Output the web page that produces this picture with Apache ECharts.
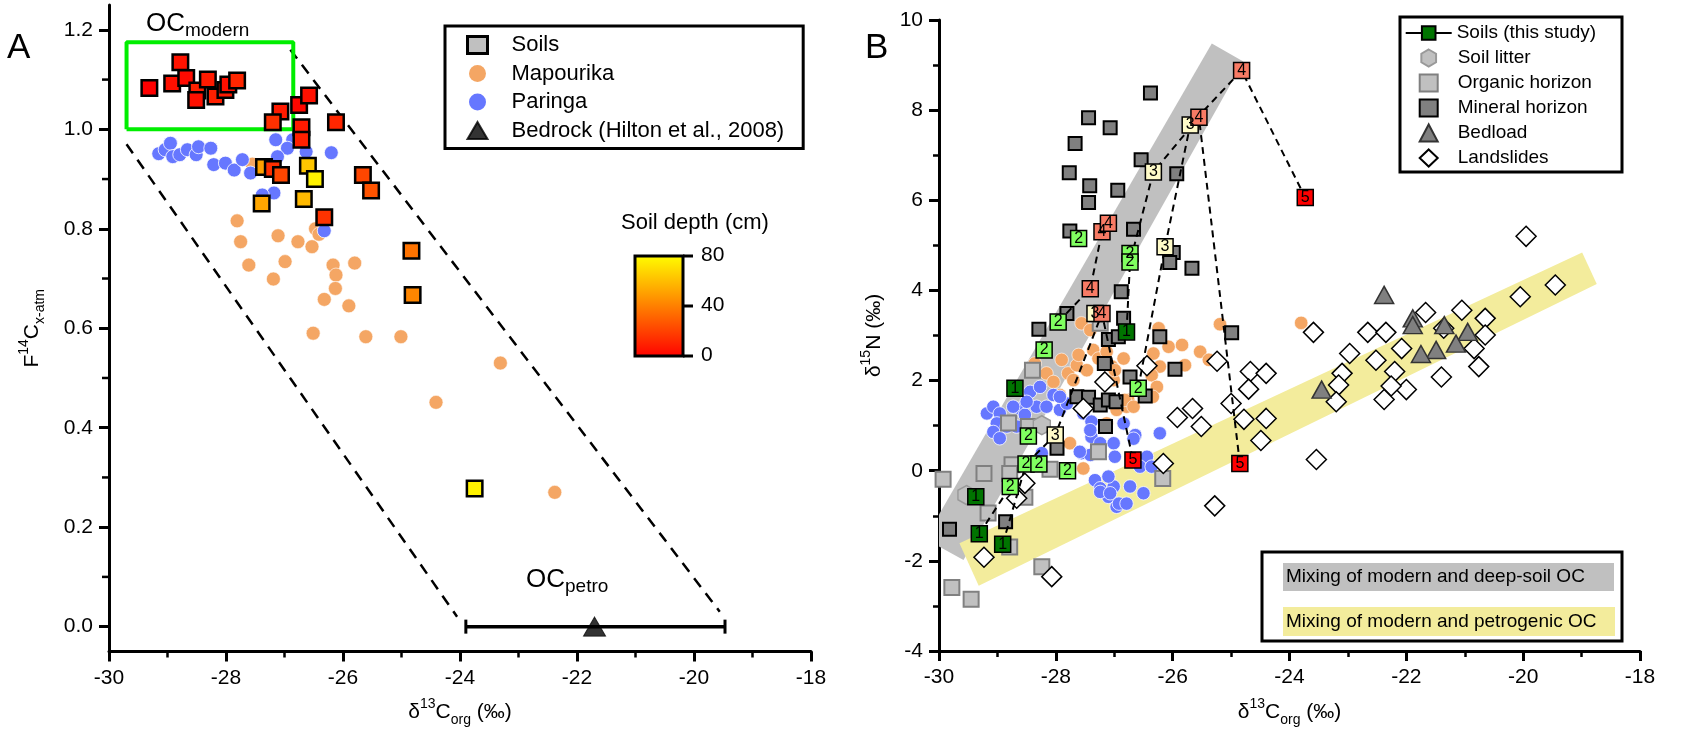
<!DOCTYPE html>
<html><head><meta charset="utf-8">
<script src="https://cdn.jsdelivr.net/npm/echarts@6/dist/echarts.min.js"></script>
<style>html,body{margin:0;padding:0;background:#fff;}#c{width:1690px;height:744px;}</style>
</head><body><div id="c"></div>
<script>
// ---------------- Panel A data ----------------
const xTicksA = [-30, -28, -26, -24, -22, -20, -18];
const yTicksA = [0.0, 0.2, 0.4, 0.6, 0.8, 1.0, 1.2];
const yMinorTicksA = [0.1, 0.3, 0.5, 0.7, 0.9, 1.1];
// [d13C, F14C, depth cm]
const soilsA = [
  [-29.31,1.083,0],[-28.92,1.092,5],[-28.78,1.135,6],[-28.68,1.103,3],[-28.49,1.078,10],[-28.51,1.059,5],
  [-28.31,1.100,8],[-28.18,1.066,10],[-28.01,1.079,8],[-27.96,1.090,5],[-27.81,1.098,12],
  [-27.07,1.036,8],[-27.20,1.014,15],[-26.75,1.049,2],[-26.58,1.068,5],[-26.71,1.004,8],[-26.71,0.979,10],[-26.12,1.014,12],
  [-27.35,0.924,50],[-27.20,0.920,15],[-27.06,0.908,22],[-26.60,0.927,62],[-26.48,0.900,76],[-25.66,0.908,22],[-25.52,0.877,26],
  [-27.39,0.851,52],[-26.67,0.860,58],[-26.32,0.823,16],[-24.83,0.756,36],[-24.81,0.667,42],[-23.75,0.278,76]
];
const mapourikaA = [
  [-27.55,0.930],[-26.47,0.800],
  [-27.81,0.816],[-27.75,0.774],[-27.11,0.786],[-26.77,0.774],[-26.53,0.764],[-26.41,0.789],
  [-27.61,0.727],[-26.99,0.734],[-27.19,0.699],[-26.17,0.727],[-26.12,0.707],[-25.80,0.731],
  [-26.13,0.680],[-26.32,0.658],[-25.90,0.645],[-26.51,0.590],[-25.61,0.583],[-25.01,0.583],
  [-23.31,0.530],[-24.41,0.451],[-22.38,0.270]
];
const paringaA = [
  [-29.15,0.951],[-29.04,0.959],[-28.95,0.972],[-28.91,0.945],[-28.79,0.949],[-28.66,0.959],[-28.51,0.949],
  [-28.47,0.965],[-28.26,0.962],[-28.21,0.929],[-28.01,0.932],[-27.86,0.918],[-27.72,0.939],[-27.58,0.912],
  [-27.15,0.979],[-26.86,0.979],[-26.95,0.962],[-27.12,0.945],[-26.63,0.955],[-26.20,0.953],
  [-27.18,0.872],[-27.38,0.868],[-26.32,0.796]
];
const bedrockA = [[-21.7, 0.0]];
const bedrockRangeA = [[-23.9, -19.47]];
const ocModernBox = [[-29.7, 1.0], [-26.85, 1.175]];
const mixLeftA = [[-29.7, 0.97], [-24.05, 0.02]];
const mixRightA = [[-26.9, 1.16], [-19.56, 0.03]];
const depthTicks = [0, 40, 80];

// ---------------- Panel B data ----------------
const xTicksB = [-30, -28, -26, -24, -22, -20, -18];
const yTicksB = [-4, -2, 0, 2, 4, 6, 8, 10];
// [d13C, d15N, depth level 1-5]
const soilsB = [
  [-29.31,-1.40,1],[-28.91,-1.63,1],[-29.37,-0.58,1],[-28.70,1.83,1],[-26.79,3.08,1],
  [-28.78,-0.35,2],[-28.51,0.15,2],[-28.29,0.15,2],[-27.80,0.00,2],[-28.47,0.77,2],[-28.20,2.68,2],
  [-27.96,3.30,2],[-27.61,5.15,2],[-26.73,4.82,2],[-26.73,4.63,2],[-26.59,1.83,2],
  [-28.01,0.79,3],[-27.33,3.49,3],[-26.13,4.97,3],[-26.33,6.63,3],[-25.70,7.67,3],
  [-27.41,4.04,4],[-27.21,3.49,4],[-27.21,5.30,4],[-27.10,5.49,4],[-25.55,7.84,4],[-24.82,8.88,4],
  [-26.68,0.24,5],[-24.85,0.16,5],[-23.73,6.06,5]
];
// soil profiles: indices into soilsB, joined by dashed lines
const profilesB = [[0,5],[1,6,16,22,27],[11,21,23],[4,14,19,25,28],[15,18,20,26,29]];
const mineralB = [
  [-26.38,8.38],[-27.44,7.83],[-27.07,7.61],[-27.67,7.26],[-26.54,6.90],[-27.77,6.61],[-25.93,6.59],
  [-27.42,6.32],[-26.94,6.22],[-27.44,5.95],[-27.76,5.32],[-26.67,5.36],[-25.99,4.84],[-26.05,4.62],
  [-25.67,4.49],[-26.88,3.97],[-27.81,3.49],[-28.29,3.14],[-27.10,2.91],[-26.93,2.97],[-27.17,2.38],
  [-27.64,1.64],[-27.44,1.63],[-27.24,1.46],[-27.10,1.57],[-26.97,1.53],[-27.15,0.98],[-27.98,0.50],
  [-29.82,-1.30],[-28.86,-1.13],[-26.84,3.38],[-26.22,2.97],[-26.73,2.08],[-26.47,1.66],[-24.99,3.06],[-25.96,2.25]
];
const organicB = [
  [-29.93,-0.19],[-29.23,-0.06],[-28.40,2.23],[-28.81,1.06],[-28.47,0.98],[-28.75,0.13],[-28.79,-0.06],
  [-28.10,0.03],[-28.53,-0.59],[-29.16,-0.94],[-28.79,-1.69],[-28.24,-2.13],[-27.27,0.42],[-27.24,3.27],
  [-26.17,-0.17],[-29.78,-2.59],[-29.45,-2.85]
];
const litterB = [[-29.53,-0.54],[-28.24,1.01]];
const bedloadB = [
  [-22.38,3.90],[-21.89,3.38],[-21.89,3.23],[-21.35,3.23],[-20.95,3.08],[-21.15,2.82],[-21.49,2.68],[-21.75,2.59],[-23.45,1.80]
];
const landslidesB = [
  [-23.59,3.07],[-25.24,2.43],[-26.44,2.33],[-27.16,1.97],[-27.53,1.38],[-24.67,2.20],[-24.40,2.16],
  [-24.70,1.81],[-25.00,1.49],[-25.66,1.38],[-25.92,1.18],[-25.51,0.98],[-24.78,1.14],[-24.40,1.16],
  [-24.49,0.67],[-23.54,0.25],[-26.16,0.16],[-22.97,2.60],[-23.10,2.16],[-23.16,1.90],[-23.20,1.53],
  [-22.66,3.07],[-22.35,3.07],[-22.08,2.71],[-22.52,2.45],[-22.20,2.20],[-22.00,1.80],[-22.26,1.88],
  [-22.38,1.58],[-21.67,3.51],[-21.40,2.08],[-21.05,3.56],[-20.84,2.71],[-20.76,2.31],[-20.65,3.38],
  [-20.65,3.01],[-20.05,3.86],[-25.28,-0.78],[-19.95,5.20],[-19.45,4.12],[-29.23,-1.92],[-28.07,-2.35],
  [-28.53,-0.28],[-28.67,-0.61],[-21.36,3.16]
];
const paringaB = [
  [-29.18,1.27],[-29.07,1.42],[-28.96,1.27],[-29.01,1.05],[-29.07,0.86],[-28.96,0.72],[-28.84,0.98],
  [-28.67,0.98],[-28.61,1.38],[-28.53,1.24],[-28.44,1.75],[-28.33,1.42],[-28.16,1.42],[-28.04,1.68],
  [-27.93,1.35],[-27.81,1.49],[-28.24,0.39],[-27.56,0.39],[-27.41,0.35],[-27.33,-0.21],[-27.24,-0.39],
  [-27.10,-0.58],[-27.01,-0.35],[-26.96,-0.80],[-28.04,0.83],[-28.73,1.42],[-28.50,1.53],[-28.27,1.86],
  [-27.93,1.64],[-27.53,1.27],[-27.39,1.09],[-27.39,0.75],[-27.59,0.42],[-27.24,0.61],[-27.01,0.61],
  [-26.84,1.05],[-26.64,0.79],[-26.99,0.31],[-27.10,-0.13],[-26.22,0.83],[-27.41,0.90],[-26.67,0.71],
  [-26.44,0.31],[-26.56,0.09],[-26.36,0.09],[-26.73,-0.35],[-26.50,-0.50],[-27.24,-0.47],[-27.07,-0.50],
  [-26.92,-0.73],[-26.79,-0.73]
];
const mapourikaB = [
  [-27.56,3.27],[-27.41,3.12],[-27.36,2.68],[-27.27,2.49],[-27.13,2.64],[-27.90,2.46],[-28.16,2.16],
  [-28.04,1.97],[-27.79,2.16],[-27.64,2.34],[-27.47,2.23],[-27.93,1.68],[-27.70,2.01],[-28.36,2.38],
  [-27.76,0.61],[-27.53,0.05],[-27.13,1.05],[-27.01,2.01],[-27.61,2.57],[-27.04,2.31],[-26.33,2.60],
  [-26.22,2.31],[-26.96,1.35],[-26.76,1.57],[-26.24,3.16],[-26.07,2.75],[-25.84,2.79],[-25.53,2.64],
  [-25.38,2.46],[-25.79,2.34],[-26.36,2.12],[-26.27,1.86],[-26.34,1.64],[-26.79,1.42],[-23.80,3.28],
  [-25.19,3.25],[-26.82,1.57],[-26.67,1.42],[-26.99,2.23],[-26.84,2.49]
];
// mixing bands (polygons in data space)
const deepSoilBand = [[-30,-0.97],[-25.33,9.48],[-24.79,9.08],[-29.58,-1.98],[-30,-1.68]];
const petroBand = [[-29.65,-1.61],[-18.99,4.84],[-18.74,4.14],[-29.32,-2.55]];

// ---------------- styles ----------------
const FONT = "'Liberation Sans', Arial, Helvetica, sans-serif";
const RICH = {
  n:{fontSize:21, fontFamily:FONT, color:'#000', lineHeight:30},
  sup:{fontSize:14, fontFamily:FONT, color:'#000', lineHeight:14, verticalAlign:'top'},
  sub:{fontSize:14, fontFamily:FONT, color:'#000', lineHeight:14, verticalAlign:'bottom'}
};
const OCRICH = {
  n:{fontSize:26, fontFamily:FONT, fill:'#000', lineHeight:32},
  s:{fontSize:19, fontFamily:FONT, fill:'#000', lineHeight:19, verticalAlign:'bottom'}
};
const depthColors = ['#007400','#80ff60','#fffbc8','#f87b65','#ff0000'];
const HEX = 'path://M0,-1L0.866,-0.5L0.866,0.5L0,1L-0.866,0.5L-0.866,-0.5Z';

const axLine = {show:true, onZero:false, lineStyle:{color:'#000', width:3}};
const axTick = {show:true, length:10, lineStyle:{color:'#000', width:3}};
const axMinor = {show:true, splitNumber:2, length:6, lineStyle:{color:'#000', width:2.5}};
const axLabel = {color:'#000', fontSize:21, fontFamily:FONT, margin:16};

const chart = echarts.init(document.getElementById('c'), null, {renderer:'canvas'});

const series = [];
function add(s){ series.push(s); return series.length-1; }

// Panel A
add({name:'Mapourika', type:'scatter', xAxisIndex:0, yAxisIndex:0, data:mapourikaA, symbolSize:14,
  itemStyle:{color:'#F4A664', borderColor:'#fff', borderWidth:0.6, opacity:1}, z:2});
add({name:'Paringa', type:'scatter', xAxisIndex:0, yAxisIndex:0, data:paringaA, symbolSize:14,
  itemStyle:{color:'#6677FF', borderColor:'#fff', borderWidth:0.8, opacity:1}, z:3});
add({name:'mixA1', type:'line', xAxisIndex:0, yAxisIndex:0, data:mixLeftA, symbol:'none',
  lineStyle:{color:'#000', width:2.5, type:[11,8]}, z:1, silent:true});
add({name:'mixA2', type:'line', xAxisIndex:0, yAxisIndex:0, data:mixRightA, symbol:'none',
  lineStyle:{color:'#000', width:2.5, type:[11,8]}, z:1, silent:true});
add({name:'ocModern', type:'line', xAxisIndex:0, yAxisIndex:0, symbol:'none',
  data:[[ocModernBox[0][0],ocModernBox[0][1]],[ocModernBox[1][0],ocModernBox[0][1]],[ocModernBox[1][0],ocModernBox[1][1]],[ocModernBox[0][0],ocModernBox[1][1]],[ocModernBox[0][0],ocModernBox[0][1]]],
  lineStyle:{color:'#00ee00', width:4}, z:2, silent:true});
const idxSoilsA = add({name:'Soils', type:'scatter', xAxisIndex:0, yAxisIndex:0, data:soilsA, symbol:'rect', symbolSize:15.5,
  itemStyle:{color:'#c0c0c0', borderColor:'#000', borderWidth:2.5, opacity:1}, z:6});
add({name:'bedrockErr', type:'custom', xAxisIndex:0, yAxisIndex:0,
  data: bedrockRangeA.map((r,i)=>[r[0], r[1], bedrockA[i][1]]),
  renderItem:(params, api)=>{
    const y = api.value(2);
    const p1 = api.coord([api.value(0), y]), p2 = api.coord([api.value(1), y]);
    const h = 7;
    return {type:'group', children:[
      {type:'line', shape:{x1:p1[0],y1:p1[1],x2:p2[0],y2:p2[1]}, style:{stroke:'#000', lineWidth:3.5}},
      {type:'line', shape:{x1:p1[0],y1:p1[1]-h,x2:p1[0],y2:p1[1]+h}, style:{stroke:'#000', lineWidth:3}},
      {type:'line', shape:{x1:p2[0],y1:p2[1]-h,x2:p2[0],y2:p2[1]+h}, style:{stroke:'#000', lineWidth:3}}
    ]};
  }, z:4, silent:true});
add({name:'Bedrock (Hilton et al., 2008)', type:'scatter', xAxisIndex:0, yAxisIndex:0, data:bedrockA,
  symbol:'triangle', symbolSize:[22,19], itemStyle:{color:'#000', borderColor:'#000', borderWidth:1}, z:5});

// Panel B
const bandSeries = (name, poly, color) => ({name, type:'custom', xAxisIndex:1, yAxisIndex:1, clip:true,
  data:[poly[0]], silent:true, z:1,
  renderItem:(params, api)=>({type:'polygon', shape:{points: poly.map(p=>api.coord(p))}, style:{fill:color}})});
add(bandSeries('bandDeep', deepSoilBand, '#c0c0c0'));
add(bandSeries('bandPetro', petroBand, '#f3ec9c'));
add({name:'Mapourika', type:'scatter', xAxisIndex:1, yAxisIndex:1, data:mapourikaB, symbolSize:13.5,
  itemStyle:{color:'#F4A664', borderColor:'#fff', borderWidth:0.6, opacity:1}, z:2});
add({name:'Paringa', type:'scatter', xAxisIndex:1, yAxisIndex:1, data:paringaB, symbolSize:13.5,
  itemStyle:{color:'#6677FF', borderColor:'#fff', borderWidth:0.8, opacity:1}, z:3});
add({name:'Organic horizon', type:'scatter', xAxisIndex:1, yAxisIndex:1, data:organicB, symbol:'rect', symbolSize:15,
  itemStyle:{color:'#c0c0c0', borderColor:'#808080', borderWidth:2, opacity:1}, z:4});
add({name:'Soil litter', type:'scatter', xAxisIndex:1, yAxisIndex:1, data:litterB, symbol:HEX, symbolSize:[17,19],
  itemStyle:{color:'#c0c0c0', borderColor:'#999', borderWidth:1.5, opacity:1}, z:4});
add({name:'Mineral horizon', type:'scatter', xAxisIndex:1, yAxisIndex:1, data:mineralB, symbol:'rect', symbolSize:13,
  itemStyle:{color:'#808080', borderColor:'#000', borderWidth:2, opacity:1}, z:5});
add({name:'Landslides', type:'scatter', xAxisIndex:1, yAxisIndex:1, data:landslidesB, symbol:'diamond', symbolSize:20,
  itemStyle:{color:'#fff', borderColor:'#000', borderWidth:1.5, opacity:1}, z:6});
add({name:'Bedload', type:'scatter', xAxisIndex:1, yAxisIndex:1, data:bedloadB, symbol:'triangle', symbolSize:[19,17],
  itemStyle:{color:'#808080', borderColor:'#333', borderWidth:1.5, opacity:1}, z:6});
profilesB.forEach((prof,i)=>{
  add({name:'profile'+i, type:'line', xAxisIndex:1, yAxisIndex:1, symbol:'none', silent:true,
    data: prof.map(k=>[soilsB[k][0], soilsB[k][1]]),
    lineStyle:{color:'#000', width:2, type:[7,5]}, z:7});
});
add({name:'Soils (this study)', type:'line', xAxisIndex:1, yAxisIndex:1, data:[], symbol:'rect', symbolSize:16,
  itemStyle:{color:'#007400', borderColor:'#000', borderWidth:1.5}, lineStyle:{color:'#000', width:2}});
const idxSoilsB = add({name:'soilsB', type:'scatter', xAxisIndex:1, yAxisIndex:1, data:soilsB, symbol:'rect', symbolSize:16,
  itemStyle:{color:'#007400', borderColor:'#000', borderWidth:1.5, opacity:1},
  label:{show:true, position:'inside', formatter:p=>String(p.value[2]), color:'#000', fontSize:16, fontFamily:FONT}, z:8});

const baseGraphic = [
  {type:'text', x:7, y:31, style:{text:'A', fontSize:35, fontFamily:FONT, fill:'#000'}},
  {type:'text', x:865, y:31, style:{text:'B', fontSize:35, fontFamily:FONT, fill:'#000'}},
  {type:'text', x:146, y:8, style:{text:'{n|OC}{s|modern}', rich:OCRICH}},
  {type:'text', x:526, y:564, style:{text:'{n|OC}{s|petro}', rich:OCRICH}},
  // colour bar
  {type:'text', x:621, y:212, style:{text:'Soil depth (cm)', fontSize:22, fontFamily:FONT, fill:'#000'}},
  {type:'rect', shape:{x:635, y:256, width:48, height:100}, style:{stroke:'#000', lineWidth:3,
    fill:{type:'linear', x:0, y:0, x2:0, y2:1, colorStops:[{offset:0,color:'#ffff00'},{offset:0.5,color:'#ff8000'},{offset:1,color:'#ff0000'}]}}},
  ...depthTicks.map(d=>{ const yy = 356 - d/80*100; return {type:'line', shape:{x1:683, y1:yy, x2:693, y2:yy}, style:{stroke:'#000', lineWidth:3}}; }),
  ...depthTicks.map(d=>{ const yy = 356 - d/80*100; return {type:'text', x:701, y:yy-11, style:{text:String(d), fontSize:21, fontFamily:FONT, fill:'#000'}}; }),
  // panel B legend frame
  {type:'rect', shape:{x:1400, y:17, width:222, height:155}, style:{stroke:'#000', lineWidth:3, fill:'none'}, z:-1},
  // mixing band key
  {type:'rect', shape:{x:1262, y:552, width:360, height:89}, style:{stroke:'#000', lineWidth:3, fill:'#fff'}},
  {type:'rect', shape:{x:1283, y:563, width:331, height:28}, style:{fill:'#c0c0c0'}},
  {type:'text', x:1286, y:567, style:{text:'Mixing of modern and deep-soil OC', fontSize:19, fontFamily:FONT, fill:'#000'}},
  {type:'rect', shape:{x:1283, y:607, width:332, height:29}, style:{fill:'#f3ec9c'}},
  {type:'text', x:1286, y:612, style:{text:'Mixing of modern and petrogenic OC', fontSize:19, fontFamily:FONT, fill:'#000'}}
];

const option = {
  animation:false,
  backgroundColor:'#fff',
  grid:[
    {left:109, top:5, width:702, height:646.5},
    {left:939, top:20, width:701, height:631}
  ],
  xAxis:[
    {gridIndex:0, type:'value', min:xTicksA[0], max:xTicksA[xTicksA.length-1], interval:2, axisLine:axLine, axisTick:axTick, minorTick:axMinor,
     splitLine:{show:false}, axisLabel:axLabel,
     name:'{n|δ}{sup|13}{n|C}{sub|org}{n| (‰)}', nameLocation:'middle', nameGap:46, nameTextStyle:{rich:RICH}},
    {gridIndex:1, type:'value', min:xTicksB[0], max:xTicksB[xTicksB.length-1], interval:2, axisLine:axLine, axisTick:axTick, minorTick:axMinor,
     splitLine:{show:false}, axisLabel:axLabel,
     name:'{n|δ}{sup|13}{n|C}{sub|org}{n| (‰)}', nameLocation:'middle', nameGap:46, nameTextStyle:{rich:RICH}}
  ],
  yAxis:[
    {gridIndex:0, type:'value', position:'left', min:-0.05, max:1.25, axisLine:axLine,
     axisTick:Object.assign({}, axTick, {customValues:yTicksA}), minorTick:{show:false}, splitLine:{show:false},
     axisLabel:Object.assign({}, axLabel, {customValues:yTicksA, formatter:v=>Number(v).toFixed(1)}),
     name:'{n|F}{sup|14}{n|C}{sub|x-atm}', nameLocation:'middle', nameGap:62, nameTextStyle:{rich:RICH}},
    {gridIndex:1, type:'value', position:'left', min:yTicksB[0], max:yTicksB[yTicksB.length-1], interval:2, axisLine:axLine, axisTick:axTick, minorTick:axMinor,
     splitLine:{show:false}, axisLabel:axLabel,
     name:'{n|δ}{sup|15}{n|N (‰)}', nameLocation:'middle', nameGap:50, nameTextStyle:{rich:RICH}}
  ],
  visualMap:[
    {type:'continuous', show:false, seriesIndex:idxSoilsA, dimension:2, min:depthTicks[0], max:depthTicks[2],
     inRange:{color:['#ff0000','#ff8000','#ffff00']}},
    {type:'piecewise', show:false, seriesIndex:idxSoilsB, dimension:2,
     pieces:depthColors.map((c,i)=>({value:i+1, color:c}))}
  ],
  legend:[
    {orient:'vertical', left:445, top:26, selectedMode:false, itemWidth:20, itemHeight:17, itemGap:6.5,
     padding:[8,19,7,21], borderColor:'#000', borderWidth:3, backgroundColor:'#fff',
     textStyle:{fontSize:22, fontFamily:FONT, color:'#000', padding:[0,0,0,19]},
     data:[
       {name:'Soils', itemStyle:{color:'#c0c0c0', borderColor:'#000', borderWidth:3}},
       {name:'Mapourika', itemStyle:{color:'#F4A664', borderWidth:0}},
       {name:'Paringa', itemStyle:{color:'#6677FF', borderWidth:0}},
       {name:'Bedrock (Hilton et al., 2008)'}
     ]},
    {orient:'vertical', left:1404.7, top:23.5, selectedMode:false, itemWidth:46, itemHeight:17,
     padding:0, textStyle:{fontSize:19, fontFamily:FONT, color:'#000'},
     data:['Soils (this study)']},
    {orient:'vertical', left:1418.7, top:48.5, selectedMode:false, itemWidth:18, itemHeight:17, itemGap:6,
     padding:0, textStyle:{fontSize:19, fontFamily:FONT, color:'#000', padding:[0,0,0,15]},
     data:['Soil litter','Organic horizon','Mineral horizon','Bedload','Landslides']}
  ],
  graphic: baseGraphic,
  series
};
chart.setOption(option);

// minor ticks of the F14C axis, positioned through the axis scale
const minorTickEls = yMinorTicksA.map(v=>{
  const p = chart.convertToPixel({xAxisIndex:0, yAxisIndex:0}, [xTicksA[0], v]);
  return {type:'line', shape:{x1:p[0]-7, y1:p[1], x2:p[0], y2:p[1]}, style:{stroke:'#000', lineWidth:2.5}, z:100};
});
chart.setOption({graphic: baseGraphic.concat(minorTickEls)});
</script></body></html>
